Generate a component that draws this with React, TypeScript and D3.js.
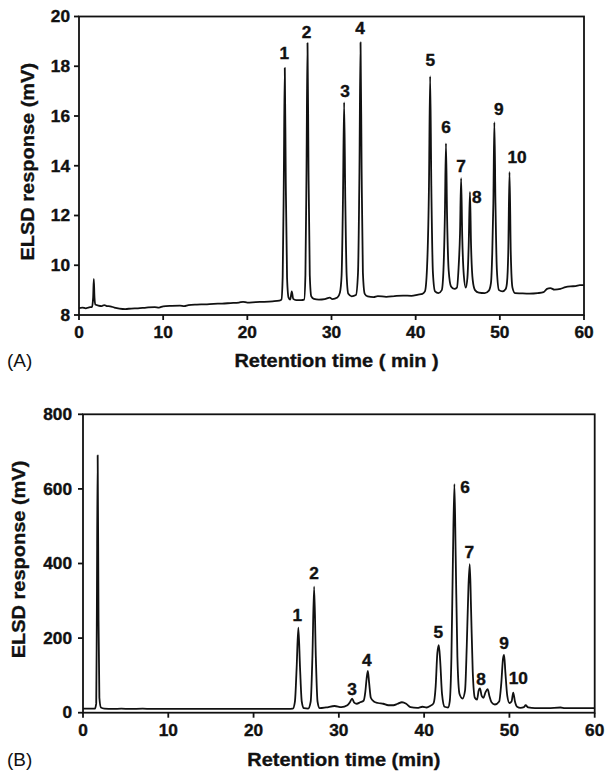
import React from "react";
import * as d3 from "d3";

// ---------- DATA ----------
const xTicks = [0, 10, 20, 30, 40, 50, 60];
const yTicksA = [8, 10, 12, 14, 16, 18, 20];
const yTicksB = [0, 200, 400, 600, 800];

// Panel A trace: [retention time (min), response (mV)]
const traceA: [number, number][] = [
  [0, 8.28], [0.4, 8.3], [0.8, 8.27], [1.2, 8.31], [1.55, 8.33], [1.68, 8.7], [1.76, 9.45], [1.84, 8.7], [1.95, 8.42],
  [2.3, 8.38], [2.7, 8.36], [3.0, 8.4], [3.3, 8.36], [3.7, 8.35], [4.2, 8.3], [4.8, 8.26], [5.5, 8.24], [6.2, 8.26],
  [7, 8.27], [8, 8.3], [9, 8.32], [9.5, 8.3], [10, 8.35], [11, 8.37], [12, 8.38], [12.5, 8.36], [13, 8.4], [14, 8.42], [15, 8.43], [16, 8.45],
  [17, 8.46], [18, 8.48], [19, 8.5], [19.5, 8.53], [20, 8.5], [21, 8.52], [22, 8.53], [23, 8.55], [23.8, 8.58],
  [24.05, 8.62], [24.2, 9.55], [24.33, 13.3], [24.45, 17.93], [24.57, 13.3], [24.72, 9.5], [24.9, 8.7], [25.1, 8.62],
  [25.28, 8.95], [25.45, 8.65], [25.8, 8.6], [26.4, 8.6], [26.75, 8.62],
  [26.9, 9.6], [27.03, 13.8], [27.15, 18.93], [27.27, 13.8], [27.42, 9.6], [27.6, 8.75], [27.9, 8.65], [28.5, 8.62],
  [29.2, 8.64], [29.8, 8.7], [30.1, 8.64], [30.7, 8.7], [31.0, 8.9],
  [31.2, 9.6], [31.36, 12.6], [31.5, 16.55], [31.64, 12.6], [31.8, 9.6], [32.0, 8.85], [32.4, 8.75], [32.9, 8.8],
  [33.15, 9.7], [33.32, 13.8], [33.45, 18.96], [33.58, 13.8], [33.73, 9.7], [33.95, 8.85], [34.3, 8.75], [35, 8.72],
  [35.5, 8.76], [36.5, 8.73], [37.5, 8.76], [38.5, 8.78], [39.5, 8.77], [40.3, 8.82], [40.8, 8.85], [41.1, 8.95],
  [41.35, 9.9], [41.58, 13.2], [41.72, 17.6], [41.86, 13.2], [42.05, 9.7], [42.3, 8.95], [42.7, 8.88], [43.1, 9.0],
  [43.3, 9.8], [43.47, 12.0], [43.6, 14.9], [43.73, 12.0], [43.92, 9.8], [44.2, 9.15], [44.6, 9.05], [44.9, 9.1],
  [45.1, 9.9], [45.27, 11.3], [45.4, 13.5], [45.53, 11.2], [45.72, 9.6], [45.95, 9.1], [46.15, 9.5],
  [46.3, 10.8], [46.45, 12.95], [46.58, 10.8], [46.78, 9.4], [47.05, 9.0], [47.5, 8.9], [48.2, 8.88], [48.7, 8.98], [48.95, 9.3],
  [49.1, 10.5], [49.23, 12.5], [49.35, 15.75], [49.48, 12.5], [49.65, 9.8], [49.9, 9.0], [50.3, 8.95], [50.7, 9.05], [50.85, 9.3],
  [51.0, 10.5], [51.15, 13.75], [51.3, 10.5], [51.5, 9.1], [51.8, 8.88], [52.5, 8.87], [53.5, 8.86], [54.5, 8.88],
  [55.2, 8.92], [55.6, 9.05], [56.0, 9.08], [56.5, 9.02], [57.2, 9.05], [57.8, 9.12], [58.4, 9.15], [59, 9.16], [59.5, 9.2], [60, 9.2],
];

// Panel B trace
const traceB: [number, number][] = [
  [0, 11], [0.8, 11], [1.4, 11], [1.55, 25], [1.62, 250], [1.72, 690], [1.82, 250], [1.92, 40], [2.1, 14], [2.5, 11],
  [3.5, 10], [4.5, 11], [5.5, 10], [7, 11], [8, 10], [10, 10], [12, 10], [15, 10], [18, 10], [21, 10], [24, 10], [24.6, 11],
  [24.85, 30], [25.05, 120], [25.25, 228], [25.45, 120], [25.65, 30], [25.9, 12], [26.4, 11],
  [26.7, 30], [26.9, 150], [27.1, 338], [27.3, 150], [27.5, 30], [27.75, 12], [28.5, 14], [29.5, 18], [30.3, 15], [31.0, 20],
  [31.3, 28], [31.55, 38], [31.8, 27], [32.1, 24], [32.5, 28], [32.9, 32],
  [33.1, 55], [33.25, 90], [33.4, 112], [33.55, 80], [33.75, 40], [34.1, 30], [34.6, 26], [35.2, 24], [35.8, 20],
  [36.4, 20], [36.9, 24], [37.4, 28], [37.9, 24], [38.4, 15], [39.2, 13], [39.8, 16], [40.3, 14], [40.7, 18], [41.1, 25],
  [41.35, 70], [41.55, 160], [41.72, 181], [41.88, 140], [42.1, 50], [42.4, 16], [42.8, 14], [43.0, 30],
  [43.2, 150], [43.38, 420], [43.55, 613], [43.7, 420], [43.9, 150], [44.15, 50], [44.5, 38], [44.8, 60],
  [45.0, 180], [45.2, 340], [45.35, 398], [45.5, 280], [45.7, 110], [45.95, 40], [46.2, 35],
  [46.4, 60], [46.55, 65], [46.75, 45], [46.95, 40], [47.2, 55], [47.45, 63], [47.65, 45], [47.9, 28], [48.3, 22], [48.8, 30],
  [49.05, 80], [49.25, 145], [49.38, 155], [49.52, 110], [49.75, 45], [50.0, 26], [50.25, 30], [50.45, 54], [50.65, 30],
  [50.9, 16], [51.3, 13], [51.7, 15], [51.9, 20], [52.2, 14], [53, 12], [54.5, 12], [56, 14], [56.5, 12], [58, 12], [60, 12],
];

// Peak labels: [text, time, response]
const labelsA: [string, number, number][] = [
  ["1", 24.39, 18.52], ["2", 27.05, 19.38], ["3", 31.6, 17.0], ["4", 33.39, 19.53], ["5", 41.74, 18.25],
  ["6", 43.6, 15.53], ["7", 45.39, 14.0], ["8", 47.25, 12.73], ["9", 49.87, 16.28], ["10", 52.04, 14.36],
];
const labelsB: [string, number, number][] = [
  ["1", 25.13, 262], ["2", 27.09, 375], ["3", 31.54, 63], ["4", 33.27, 141], ["5", 41.66, 217],
  ["6", 44.79, 604], ["7", 45.3, 431], ["8", 46.67, 89], ["9", 49.37, 186], ["10", 51.04, 92],
];

const FONT = "'Liberation Sans', Arial, Helvetica, sans-serif";
const SX = 1.08;

function T(props: {
  x: number; y: number; anchor?: string; size: number; weight?: string | number;
  rotate?: number; dy?: string; sx?: number; children: React.ReactNode;
}) {
  const { x, y, anchor = "middle", size, weight = "bold", rotate = 0, dy, sx = SX, children } = props;
  const bold = weight === "bold";
  return (
    <g transform={`translate(${x},${y}) rotate(${rotate}) scale(${sx},1)`}>
      <text textAnchor={anchor} fontSize={size} fontWeight={weight} fontFamily={FONT} dy={dy} fill="#111"
        stroke={bold ? "#111" : "none"} strokeWidth={bold ? 0.35 : 0}>
        {children}
      </text>
    </g>
  );
}

function Panel(props: {
  left: number; right: number; top: number; bottom: number;
  yDomain: [number, number]; yTicks: number[]; trace: [number, number][];
  labels: [string, number, number][]; xTitle: string; panel: string;
  yTitleX: number; xTitleY: number; panelY: number; tickLabelGap: number;
}) {
  const { left, right, top, bottom, yDomain, yTicks, trace, labels, xTitle, panel, yTitleX, xTitleY, panelY, tickLabelGap } = props;
  const x = d3.scaleLinear().domain([0, 60]).range([left, right]);
  const y = d3.scaleLinear().domain(yDomain).range([bottom, top]);
  const line = d3.line<[number, number]>().x((d) => x(d[0])).y((d) => y(d[1])).curve(d3.curveMonotoneX);
  const tl = 5;
  return (
    <g>
      <path d={line(trace) || ""} fill="none" stroke="#111" strokeWidth={1.8} strokeLinejoin="round" />
      <rect x={left} y={top} width={right - left} height={bottom - top} fill="none" stroke="#111" strokeWidth={1.8} />
      {xTicks.map((t) => (
        <g key={"xt" + t}>
          <line x1={x(t)} x2={x(t)} y1={bottom} y2={bottom + tl} stroke="#111" strokeWidth={1.8} />
          <T x={x(t)} y={bottom + 23} size={16}>{t}</T>
        </g>
      ))}
      {yTicks.map((v) => (
        <g key={"yt" + v}>
          <line x1={left - tl} x2={left} y1={y(v)} y2={y(v)} stroke="#111" strokeWidth={1.8} />
          <T x={left - tickLabelGap} y={y(v)} anchor="end" dy="0.36em" size={16}>{v}</T>
        </g>
      ))}
      {labels.map(([s, t, v]) => (
        <T key={"lb" + s} x={x(t)} y={y(v)} dy="0.36em" size={16}>{s}</T>
      ))}
      <T x={(left + right) / 2 + 5} y={xTitleY} size={18.5}>{xTitle}</T>
      <T x={yTitleX} y={(top + bottom) / 2 - 4} rotate={-90} size={18.5}>ELSD response (mV)</T>
      <T x={7} y={panelY} anchor="start" size={19} weight="normal" sx={1}>{panel}</T>
    </g>
  );
}

export default function App() {
  return (
    <svg width={612} height={779} style={{ position: "absolute", left: 0, top: 0, background: "#fff" }}>
      <rect width={612} height={779} fill="#fff" />
      <Panel left={79} right={584} top={16.5} bottom={315} yDomain={[8, 20]} yTicks={yTicksA} trace={traceA}
        labels={labelsA} xTitle="Retention time ( min )" panel="(A)" yTitleX={34} xTitleY={367} panelY={367} tickLabelGap={9} />
      <Panel left={83} right={594.7} top={414.3} bottom={712.7} yDomain={[0, 800]} yTicks={yTicksB} trace={traceB}
        labels={labelsB} xTitle="Retention time (min)" panel="(B)" yTitleX={25} xTitleY={766} panelY={766} tickLabelGap={11} />
    </svg>
  );
}
